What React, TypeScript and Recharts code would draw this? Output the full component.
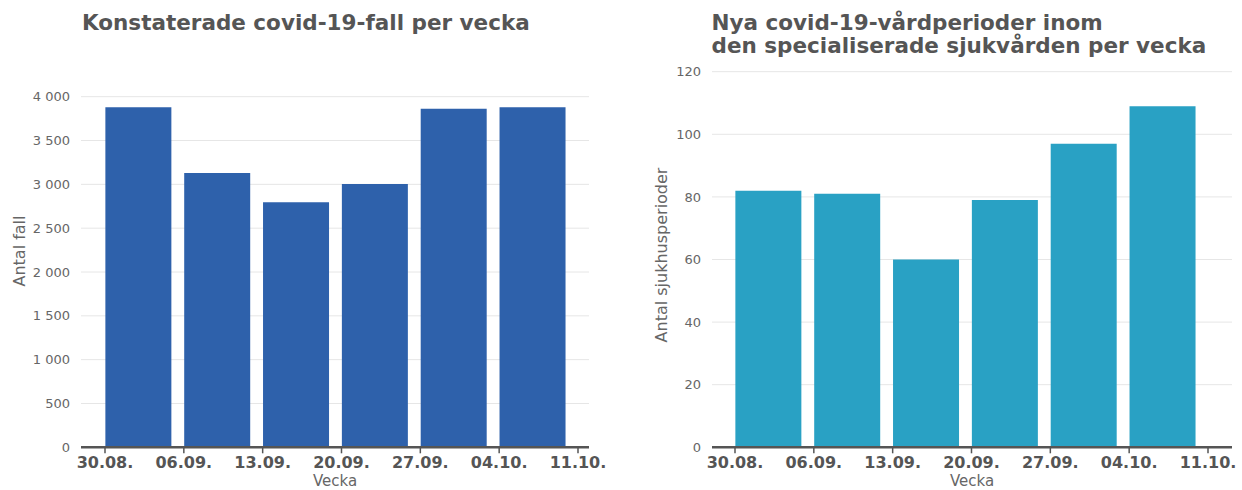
import React from 'react';
import { BarChart, Bar, XAxis, YAxis, CartesianGrid, Label } from 'recharts';

// Week start labels (the last one closes the final week)
const weekLabels = ['30.08.', '06.09.', '13.09.', '20.09.', '27.09.', '04.10.', '11.10.'];

// Confirmed covid-19 cases per week
const caseCounts = [3879, 3130, 2795, 3004, 3863, 3879];

// New covid-19 care periods in specialised health care per week
const careCounts = [82, 81, 60, 79, 97, 109];

const caseTicks = [0, 500, 1000, 1500, 2000, 2500, 3000, 3500, 4000];
const careTicks = [0, 20, 40, 60, 80, 100, 120];

const FONT = '"DejaVu Sans", Verdana, sans-serif';

// x positions in days since the first week start; bars sit inside their week
const tickDays = weekLabels.map((_, i) => i * 7);
const toRows = (values: number[]) =>
  values.map((value, i) => ({ week: weekLabels[i], day: i * 7 + 3, value }));

const caseRows = toRows(caseCounts);
const careRows = toRows(careCounts);

const spaced = (v: number) => String(v).replace(/\B(?=(\d{3})+(?!\d))/g, ' ');
const dayLabel = (d: number) => weekLabels[Math.round(d / 7)] ?? '';

type AxisTitleProps = { viewBox?: any; text: string; dx: number; dy: number };

function AxisTitle({ viewBox, text, dx, dy }: AxisTitleProps) {
  if (!viewBox) return null;
  const x = viewBox.x + dx;
  const y = viewBox.y + viewBox.height / 2 + dy;
  return (
    <text
      x={x}
      y={y}
      transform={`rotate(-90, ${x}, ${y})`}
      textAnchor="middle"
      dominantBaseline="central"
      fontFamily={FONT}
      fontSize={16}
      fill="#666666"
    >
      {text}
    </text>
  );
}

type PanelProps = {
  rows: { week: string; day: number; value: number }[];
  color: string;
  width: number;
  top: number;
  right: number;
  axisWidth: number;
  domainX: [number, number];
  yTicks: number[];
  yTitle: string;
  yTitleDx: number;
  yTitleDy: number;
};

function WeeklyPanel(p: PanelProps) {
  return (
    <BarChart
      width={p.width}
      height={490}
      data={p.rows}
      margin={{ top: p.top, right: p.right, bottom: 0.7, left: 0 }}
      barCategoryGap={0}
    >
      <CartesianGrid vertical={false} stroke="#e6e6e6" strokeWidth={1} />
      <XAxis
        type="number"
        dataKey="day"
        domain={p.domainX}
        ticks={tickDays}
        allowDataOverflow
        interval={0}
        tickFormatter={dayLabel}
        height={42}
        axisLine={{ stroke: '#555555', strokeWidth: 2.5 }}
        tickLine={{ stroke: '#555555', strokeWidth: 1.5 }}
        tickSize={6}
        tickMargin={3.8}
        tick={{ fontFamily: FONT, fontSize: 16, fontWeight: 'bold', fill: '#555555' }}
      >
        <Label
          value="Vecka"
          position="insideBottom"
          offset={2.9}
          style={{ fontFamily: FONT, fontSize: 15, fill: '#666666' }}
        />
      </XAxis>
      <YAxis
        type="number"
        domain={[p.yTicks[0], p.yTicks[p.yTicks.length - 1]]}
        ticks={p.yTicks}
        interval={0}
        width={p.axisWidth}
        axisLine={false}
        tickLine={false}
        tickSize={0}
        tickMargin={11}
        tickFormatter={spaced}
        tick={{ fontFamily: FONT, fontSize: 13, fill: '#666666' }}
        label={{
          content: (lp: any) => (
            <AxisTitle viewBox={lp.viewBox} text={p.yTitle} dx={p.yTitleDx} dy={p.yTitleDy} />
          ),
        }}
      />
      <Bar dataKey="value" fill={p.color} barSize={66} isAnimationActive={false} />
    </BarChart>
  );
}

const titleStyle: React.CSSProperties = {
  position: 'absolute',
  fontFamily: FONT,
  fontWeight: 'bold',
  fontSize: 21.5,
  lineHeight: '23px',
  color: '#555555',
  whiteSpace: 'nowrap',
  margin: 0,
};

export default function App() {
  return (
    <div
      style={{
        position: 'absolute',
        left: 0,
        top: 0,
        width: 1242,
        height: 490,
        background: '#ffffff',
        overflow: 'hidden',
      }}
    >
      <div style={{ position: 'absolute', left: 0, top: 0 }}>
        <WeeklyPanel
          rows={caseRows}
          color="#2e61ab"
          width={620}
          top={96.7}
          right={31}
          axisWidth={81}
          domainX={[-2.131, 42.977]}
          yTicks={caseTicks}
          yTitle="Antal fall"
          yTitleDx={19.5}
          yTitleDy={-21}
        />
      </div>
      <div style={{ position: 'absolute', left: 620, top: 0 }}>
        <WeeklyPanel
          rows={careRows}
          color="#29a1c4"
          width={622}
          top={71.7}
          right={10}
          axisWidth={92}
          domainX={[-2.042, 44.131]}
          yTicks={careTicks}
          yTitle="Antal sjukhusperioder"
          yTitleDx={41}
          yTitleDy={-4.5}
        />
      </div>
      <div style={{ ...titleStyle, left: 82, top: 10.5 }}>
        Konstaterade covid-19-fall per vecka
      </div>
      <div style={{ ...titleStyle, left: 711.5, top: 10.5 }}>
        Nya covid-19-vårdperioder inom
        <br />
        den specialiserade sjukvården per vecka
      </div>
    </div>
  );
}
